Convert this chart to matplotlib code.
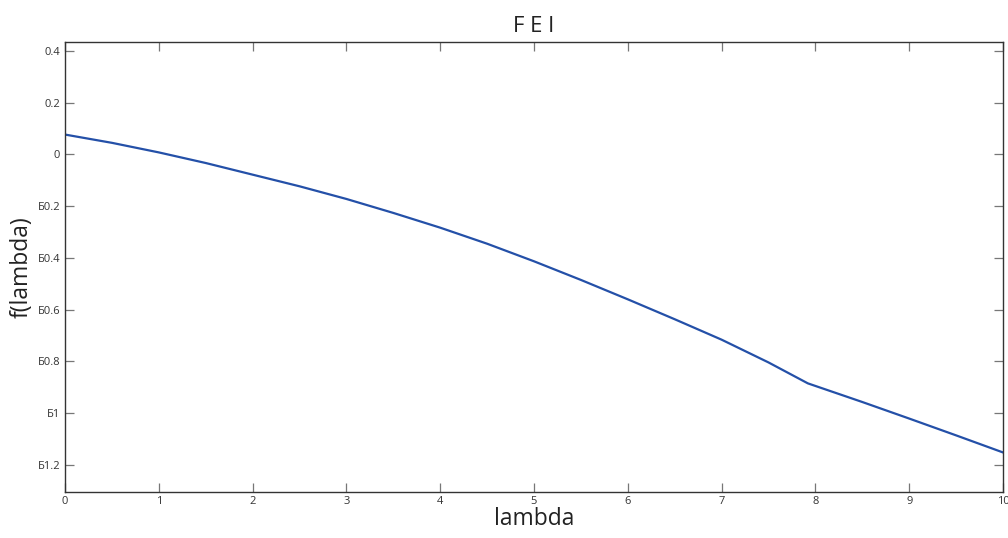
import matplotlib
matplotlib.use("Agg")
import matplotlib.pyplot as plt

plt.rcParams['font.family'] = ['Open Sans', 'DejaVu Sans']

# curve
lam = [0, 0.5, 1, 1.5, 2, 2.5, 3, 3.5, 4, 4.5, 5, 5.5, 6, 6.5, 7, 7.5, 7.92, 8.5, 9, 9.5, 10]
f_lam = [0.077, 0.045, 0.008, -0.033, -0.078, -0.123, -0.172, -0.226, -0.283, -0.345,
         -0.413, -0.485, -0.56, -0.637, -0.716, -0.804, -0.885, -0.957, -1.021, -1.086, -1.152]

yticks = [0.4, 0.2, 0, -0.2, -0.4, -0.6, -0.8, -1, -1.2]
ytick_labels = ['0.4', '0.2', '0', 'Б0.2', 'Б0.4', 'Б0.6', 'Б0.8', 'Б1', 'Б1.2']
xticks = list(range(0, 11))

fig = plt.figure(figsize=(10.08, 5.38), dpi=100)
ax = fig.add_axes([0.0645, 0.0855, 0.9305, 0.8365])

ax.plot(lam, f_lam, color='#2450a8', linewidth=1.6)

ax.set_xlim(0, 10)
ax.set_ylim(-1.305, 0.435)
ax.set_xticks(xticks)
ax.set_xticklabels([str(x) for x in xticks])
ax.set_yticks(yticks)
ax.set_yticklabels(ytick_labels)

ax.tick_params(direction='in', length=6.5, width=0.9, color='#777777',
               labelsize=8, labelcolor='#333333', top=True, right=True)
ax.tick_params(axis='x', pad=3)
for s in ax.spines.values():
    s.set_color('#333333')
    s.set_linewidth(1.0)

ax.set_title('F E I', fontsize=16, color='#222222', pad=7)
ax.set_xlabel('lambda', fontsize=16.5, color='#222222', labelpad=0)
ax.set_ylabel('f(lambda)', fontsize=16.5, color='#222222', labelpad=3)

fig.savefig('out.png', dpi=100)
